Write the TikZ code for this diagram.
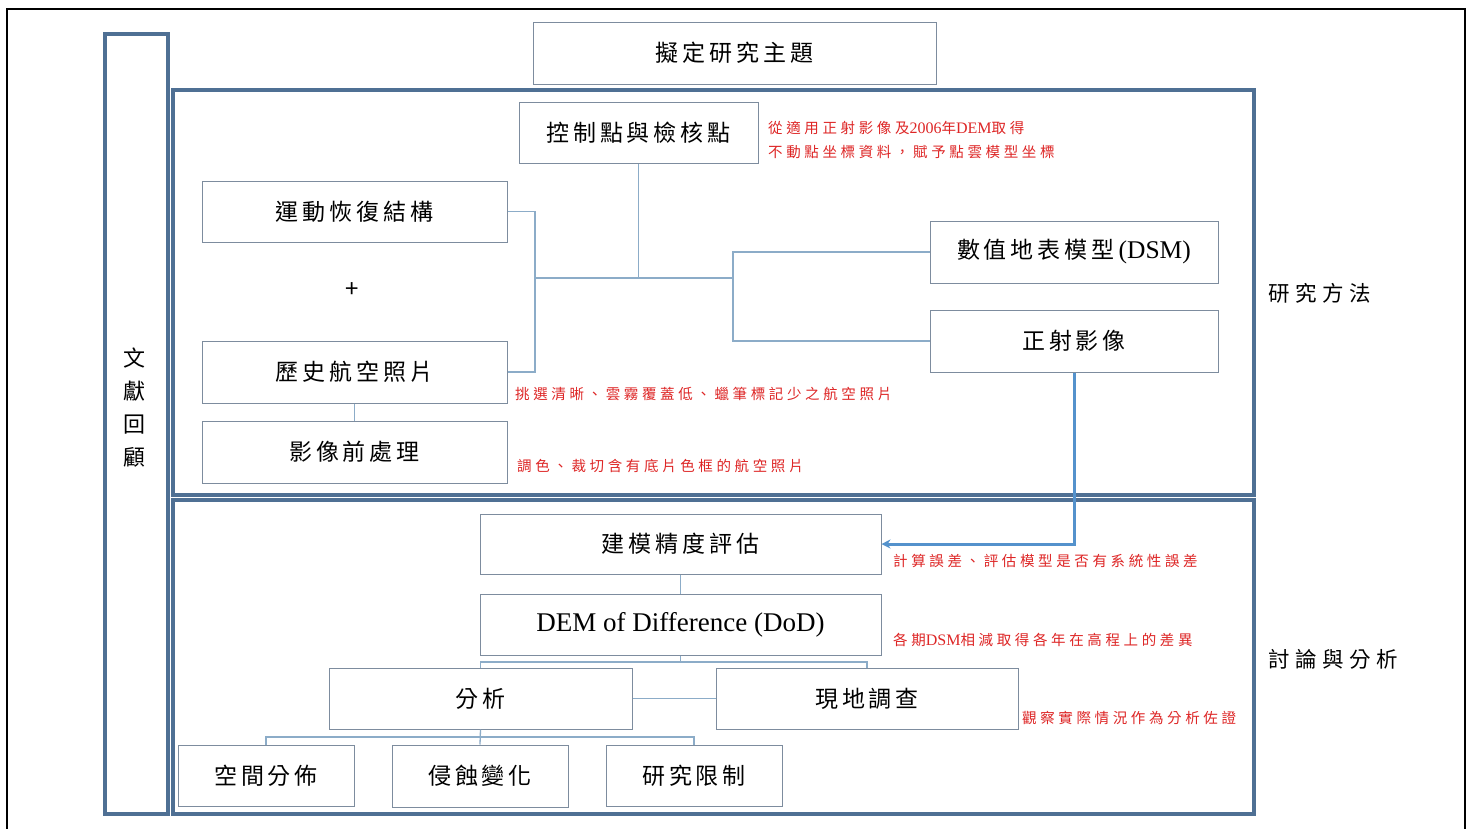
\documentclass[tikz,border=0pt]{standalone}
\usepackage{fontspec}
\setmainfont{Liberation Serif}
\newfontfamily\cjk[LetterSpace=17]{Noto Sans CJK TC}
\newfontfamily\cjkplain{Noto Sans CJK TC}
\newfontfamily\cjknote[LetterSpace=25]{Noto Sans CJK TC}
\newfontfamily\cjkside[LetterSpace=26]{Noto Sans CJK TC}
\usetikzlibrary{arrows.meta}
\definecolor{panelc}{RGB}{79,112,148}
\definecolor{boxc}{RGB}{125,140,158}
\definecolor{connc}{RGB}{140,172,200}
\definecolor{arrowc}{RGB}{84,146,204}
\definecolor{notec}{RGB}{222,38,38}
\newcommand{\lat}[1]{{\rmfamily\fontsize{16}{24}\selectfont #1}}
\begin{document}
\begin{tikzpicture}[x=1pt,y=-1pt,
  panelbox/.style={draw=panelc, line width=3.5pt},
  box/.style={draw=boxc, line width=1pt, fill=white, inner sep=0pt,
    font=\cjk\fontsize{23}{26}\selectfont},
  wh/.style 2 args={minimum width=#1pt, minimum height=#2pt},
  link/.style={draw=connc, line width=1.3pt},
  flow/.style={draw=arrowc, line width=3pt, -{Stealth[length=9pt,width=9pt]}},
  note/.style={text=notec, anchor=west, inner sep=0pt, align=left,
    font=\cjknote\fontsize{14.5}{24}\selectfont},
  side/.style={anchor=west, inner sep=0pt, font=\cjkside\fontsize{21.5}{26}\selectfont}]
\useasboundingbox (0,0) rectangle (1472,828);
\fill[white] (0,0) rectangle (1472,828);
% outer frame
\draw[line width=2pt, black] (7,840) -- (7,9) -- (1465,9) -- (1465,840);
% panels
\node[panelbox, wh={63}{780}, inner sep=0pt] (lit) at (136.5,424) {};
\node[panelbox, wh={1081}{405}, inner sep=0pt] (meth) at (713.5,292.5) {};
\node[panelbox, wh={1081}{314}, inner sep=0pt] (disc) at (713.5,657) {};
\node[inner sep=0pt, align=center, font=\cjk\fontsize{22}{33}\selectfont] (littxt) at (134,408) {文\\獻\\回\\顧};
\node[side] (methlbl) at (1268,293) {研究方法};
\node[side] (disclbl) at (1268,659) {討論與分析};
% boxes
\node[box, wh={403}{62}] (title) at (734.5,53) {擬定研究主題};
\node[box, wh={239}{61}] (ctrl) at (638.5,132.5) {控制點與檢核點};
\node[box, wh={305}{61}] (sfm) at (354.5,211.5) {運動恢復結構};
\node[inner sep=0pt, font=\cjkplain\fontsize{24}{26}\selectfont] (plus) at (352,290) {+};
\node[box, wh={305}{62}] (hist) at (354.5,372) {歷史航空照片};
\node[box, wh={305}{62}] (pre) at (354.5,452) {影像前處理};
\node[box, wh={288}{62}] (dsm) at (1074,252) {數值地表模型\hspace{4pt}{\rmfamily\fontsize{25.5}{26}\selectfont (DSM)}};
\node[box, wh={288}{62}] (ortho) at (1074,341) {正射影像};
\node[box, wh={401}{60}] (acc) at (680.5,544) {建模精度評估};
\node[box, wh={401}{61}, font=\rmfamily\fontsize{27}{30}\selectfont] (dod) at (680.5,624.5) {DEM of Difference (DoD)};
\node[box, wh={303}{61}] (ana) at (480.5,698.5) {分析};
\node[box, wh={302}{61}] (field) at (867,698.5) {現地調查};
\node[box, wh={176}{61}] (sp) at (266,775.5) {空間分佈};
\node[box, wh={176}{62}] (ero) at (480,776) {侵蝕變化};
\node[box, wh={176}{61}] (lim) at (694,775.5) {研究限制};
% notes
\node[note] (n1) at (768,140) {從適用正射影像及\lat{2006}年\lat{DEM}取得\\不動點坐標資料，賦予點雲模型坐標};
\node[note] (n2) at (515,394) {挑選清晰、雲霧覆蓋低、蠟筆標記少之航空照片};
\node[note] (n3) at (517,466) {調色、裁切含有底片色框的航空照片};
\node[note] (n4) at (893,561) {計算誤差、評估模型是否有系統性誤差};
\node[note] (n5) at (893,640) {各期\lat{DSM}相減取得各年在高程上的差異};
\node[note] (n6) at (1022,718) {觀察實際情況作為分析佐證};
% connectors
\coordinate (j1) at (535,278);
\coordinate (j2) at (733,278);
\draw[link] (sfm.east) -- (j1 |- sfm.east) -- (j1 |- hist.east) -- (hist.east);
\draw[link] (j1) -- (j2);
\draw[link] (ctrl.south) -- (ctrl.south |- j1);
\draw[link] (dsm.west) -- (j2 |- dsm.west) -- (j2 |- ortho.west) -- (ortho.west);
\draw[link] (hist.south) -- (pre.north);
\draw[link] (acc.south) -- (dod.north);
\coordinate (k1) at (680.5,662);
\draw[link] (dod.south) -- (k1);
\draw[link] (ana.north) |- (k1) -| (field.north);
\draw[link] (ana.east) -- (field.west);
\coordinate (k2) at (480.5,737);
\draw[link] (sp.north) |- (k2) -| (lim.north);
\draw[link] (ana.south) -- (ero.north);
\draw[flow] (ortho.south) |- (acc.east);
\end{tikzpicture}
\end{document}
